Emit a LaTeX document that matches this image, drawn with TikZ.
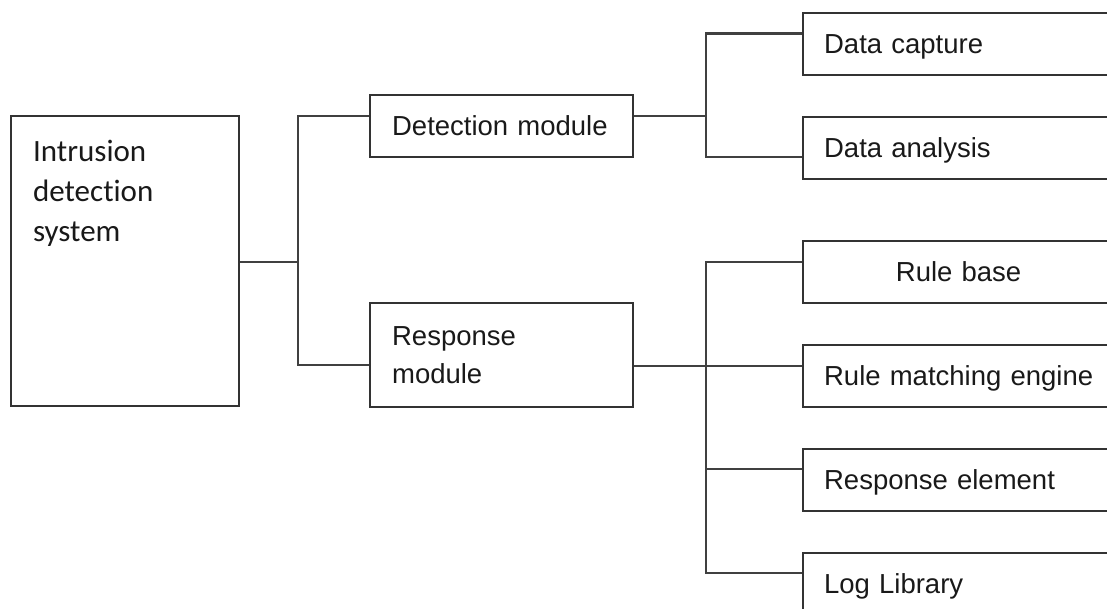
\documentclass[tikz,border=0pt]{standalone}
\usepackage{fontspec}
\setmainfont{Liberation Sans}
\newfontfamily\calfont[Ligatures=CommonOff]{Carlito}
\begin{document}
\begin{tikzpicture}[x=1pt,y=-1pt,
  box/.style={draw=black!80, line width=2.2pt, rectangle, anchor=north west,
    inner ysep=0pt, inner xsep=21pt, align=left, text height=19.7pt, text depth=0pt,
    minimum height=62pt, font=\fontsize{27.5}{38}\selectfont, text=black!90},
  conn/.style={draw=black!75, line width=2.2pt}]
\useasboundingbox (0,0) rectangle (1107,609);
\begin{scope}
\clip (0,0) rectangle (1107,609);
% left column
\node[box, text width=184pt, inner xsep=22pt, minimum height=290pt, text height=20pt,
  text depth=220pt, font=\calfont\fontsize{31}{40}\selectfont] (ids) at (10,115)
  {Intrusion\\detection\\system};
% middle column
\node[box, text width=219pt, inner xsep=22pt] (det) at (369,94) {Detection module};
\node[box, text width=219pt, inner xsep=22pt, minimum height=104pt, text depth=38pt]
  (resp) at (369,302) {Response\\module};
% right column
\node[box, text width=300pt] (cap) at (802,12) {Data capture};
\node[box, text width=300pt] (ana) at (802,116) {Data analysis};
\node[box, text width=269pt, align=center] (rb) at (802,240) {Rule base};
\node[box, text width=300pt] (rme) at (802,344) {Rule matching engine};
\node[box, text width=300pt] (re) at (802,448) {Response element};
\node[box, text width=300pt] (log) at (802,552) {Log Library};
% connectors
\coordinate (j1) at (298,262);
\coordinate (j2) at (706,0);
\coordinate (detW) at ([yshift=10pt]det.west);
\coordinate (respW) at ([yshift=-10pt]resp.west);
\coordinate (detE) at ([yshift=10pt]det.east);
\coordinate (respE) at ([yshift=-11pt]resp.east);
\coordinate (capW) at ([yshift=10.5pt]cap.west);
\coordinate (anaW) at ([yshift=-9pt]ana.west);
\coordinate (rbW) at ([yshift=10pt]rb.west);
\coordinate (rmeW) at ([yshift=10pt]rme.west);
\coordinate (reW) at ([yshift=11pt]re.west);
\coordinate (logW) at ([yshift=11pt]log.west);
\draw[conn] (ids.east |- j1) -- (j1);
\draw[conn] (detW) -| (j1) |- (respW);
\draw[conn] (detE) -- (detE -| j2);
\draw[conn] (capW) -- (capW -| j2) -- (anaW -| j2) -- (anaW);
\draw[conn] (respE) -- (rmeW);
\draw[conn] (rbW) -- (rbW -| j2) -- (logW -| j2) -- (logW);
\draw[conn] (reW -| j2) -- (reW);
\end{scope}
\end{tikzpicture}
\end{document}
